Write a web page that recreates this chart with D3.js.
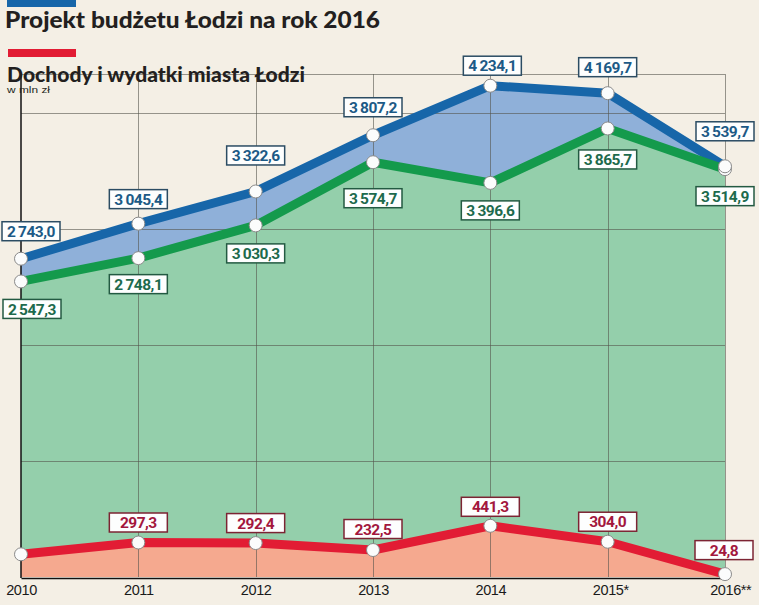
<!DOCTYPE html>
<html><head><meta charset="utf-8">
<script src="https://cdn.jsdelivr.net/npm/d3@7"></script>
<style>body{margin:0;background:#f4efe5;} svg{display:block}</style>
</head><body><svg id="c" width="759" height="605"></svg>
<script>
// ---- data ----
const years = [2010, 2011, 2012, 2013, 2014, 2015, 2016];
const yearLabels = ["2010", "2011", "2012", "2013", "2014", "2015*", "2016**"];
const expenses = [2743.0, 3045.4, 3322.6, 3807.2, 4234.1, 4169.7, 3539.7]; // wydatki (blue)
const income = [2547.3, 2748.1, 3030.3, 3574.7, 3396.6, 3865.7, 3514.9];   // dochody (green)
const deficit = [195.7, 297.3, 292.4, 232.5, 441.3, 304.0, 24.8];           // red
const deficitShown = [false, true, true, true, true, true, true];
const gridValues = [1000, 2000, 3000, 4000];
const titleText = "Projekt budżetu Łodzi na rok 2016";
const subtitleText = "Dochody i wydatki miasta Łodzi";
const unitText = "w mln zł";

// ---- layout (label offsets relative to point, px) ----
const blueOff = [[10,-27.5],[0,-24.5],[0,-36],[0,-28],[2,-20],[0,-26],[0,-35]];
const greenOff = [[11,27.5],[0,26],[0,28],[0,36],[0,27.5],[0,31],[0,27]];
const redOff = [[0,-20],[0,-20],[0,-20],[0,-21],[0,-19],[0,-20],[-1,-24]];

const svg = d3.select("#c");
const W = 759, H = 605;
svg.append("rect").attr("width", W).attr("height", H).attr("fill", "#f4efe5");

const x = d3.scaleLinear().domain([2010, 2016]).range([21, 725]);
const TOPVAL = 4335;
const y = d3.scaleLinear().domain([0, TOPVAL]).range([577, 74]);

const C = {
  blue: "#1766a9", green: "#149a4c", red: "#e21c34",
  blueFill: "#8fb0d9", greenFill: "#94cfab", redFill: "#f5a98f"
};

const idx = years.map((d, i) => i);

// areas
const g = svg.append("g");
g.append("path").datum(idx)
  .attr("d", d3.area().x(i => x(years[i])).y0(y(0)).y1(i => y(income[i])))
  .attr("fill", C.greenFill);
g.append("path").datum(idx)
  .attr("d", d3.area().x(i => x(years[i])).y0(i => y(income[i])).y1(i => y(expenses[i])))
  .attr("fill", C.blueFill);
g.append("path").datum(idx)
  .attr("d", d3.area().x(i => x(years[i])).y0(y(0)).y1(i => y(deficit[i])))
  .attr("fill", C.redFill);

// grid
const grid = svg.append("g").attr("stroke", "#55554c").attr("stroke-opacity", 0.6).attr("stroke-width", 1);
grid.selectAll("line.h").data(gridValues.concat([TOPVAL])).join("line")
  .attr("x1", x(2010)).attr("x2", x(2016))
  .attr("y1", d => Math.round(y(d)) + 0.5).attr("y2", d => Math.round(y(d)) + 0.5);
grid.selectAll("line.v").data(years.slice(1)).join("line")
  .attr("x1", d => Math.round(x(d)) + 0.5).attr("x2", d => Math.round(x(d)) + 0.5)
  .attr("y1", y(TOPVAL)).attr("y2", y(0));

// lines
const line = arr => d3.line().x(i => x(years[i])).y(i => y(arr[i]));
const lw = 9;
svg.append("path").datum(idx).attr("d", line(deficit)).attr("fill", "none")
  .attr("stroke", C.red).attr("stroke-width", lw).attr("stroke-linejoin", "round");
svg.append("path").datum(idx).attr("d", line(expenses)).attr("fill", "none")
  .attr("stroke", C.blue).attr("stroke-width", lw).attr("stroke-linejoin", "round");
svg.append("path").datum(idx).attr("d", line(income)).attr("fill", "none")
  .attr("stroke", C.green).attr("stroke-width", lw).attr("stroke-linejoin", "round");

// axes lines
svg.append("line").attr("x1", x(2010)).attr("x2", x(2010)).attr("y1", y(TOPVAL)).attr("y2", y(0) + 1)
  .attr("stroke", "#111").attr("stroke-width", 1.5);
const AXF = "'Liberation Sans', Arial, sans-serif";
const xAxis = d3.axisBottom(x).tickValues(years).tickFormat((d, i) => yearLabels[i]).tickSize(0).tickPadding(7);
const ax = svg.append("g").attr("transform", `translate(0,${y(0) + 1})`).call(xAxis);
ax.select(".domain").attr("stroke", "#111").attr("stroke-width", 1.5);
ax.selectAll("text").attr("font-family", AXF)
  .attr("font-size", 14.5).attr("fill", "#1a1a1a").attr("letter-spacing", -0.4);
ax.selectAll("text").each(function (d, i) {
  const full = this.getComputedTextLength();
  const base = yearLabels[i].replace(/\*/g, "");
  const tmp = ax.append("text").attr("font-family", AXF)
    .attr("font-size", 14.5).attr("letter-spacing", -0.4).text(base);
  const bw = tmp.node().getComputedTextLength();
  tmp.remove();
  d3.select(this).attr("dx", (full - bw) / 2);
});

// markers
function markers(arr) {
  svg.append("g").selectAll("circle").data(idx).join("circle")
    .attr("cx", i => x(years[i])).attr("cy", i => y(arr[i])).attr("r", 6.5)
    .attr("fill", "#fbfcfc").attr("stroke", "#8a8a8a").attr("stroke-width", 1);
}
markers(deficit);
markers(income);
markers(expenses);

// labels
const fmt = d3.formatLocale({decimal: ",", thousands: "\u2009", grouping: [3], currency: ["", ""]}).format(",.1f");
function labels(arr, off, textCol, borderCol, shown) {
  const lg = svg.append("g");
  idx.forEach(i => {
    if (shown && !shown[i]) return;
    const cx = x(years[i]) + off[i][0], cy = y(arr[i]) + off[i][1];
    const grp = lg.append("g");
    const rect = grp.append("rect");
    const t = grp.append("text").attr("x", cx).attr("y", cy).attr("dy", "0.36em")
      .attr("text-anchor", "middle")
      .attr("font-family", "Roboto, 'Liberation Sans', Arial, sans-serif")
      .attr("font-weight", 700).attr("font-size", 15.5).attr("letter-spacing", -0.5)
      .attr("fill", textCol).text(fmt(arr[i]));
    const tw = t.node().getComputedTextLength();
    const bw = Math.max(58, tw + 9), bh = 19;
    rect.attr("x", cx - bw / 2).attr("y", cy - bh / 2).attr("width", bw).attr("height", bh)
      .attr("fill", "#fdfefe").attr("stroke", borderCol).attr("stroke-width", 1.5);
  });
}
labels(expenses, blueOff, "#1c5a86", "#2b4c63");
labels(income, greenOff, "#1d6a4d", "#235a42");
labels(deficit, redOff, "#a3173d", "#7c2433", deficitShown);

// titles
svg.append("rect").attr("x", 7).attr("y", 0).attr("width", 69).attr("height", 7).attr("fill", C.blue);
svg.append("rect").attr("x", 8).attr("y", 49).attr("width", 68).attr("height", 8).attr("fill", C.red);
svg.append("text").attr("x", 5).attr("y", 28)
  .attr("font-family", "Lato, 'Open Sans', sans-serif").attr("font-weight", 900).attr("font-size", 22.5)
  .attr("fill", "#231f20").attr("textLength", 375).attr("lengthAdjust", "spacingAndGlyphs").text(titleText);
svg.append("text").attr("x", 7).attr("y", 82)
  .attr("font-family", "Lato, 'Open Sans', sans-serif").attr("font-weight", 900).attr("font-size", 20.5)
  .attr("fill", "#231f20").attr("textLength", 298).attr("lengthAdjust", "spacingAndGlyphs").text(subtitleText);
svg.append("text").attr("x", 7).attr("y", 93)
  .attr("font-family", "'Liberation Sans', Arial, sans-serif").attr("font-size", 8.5)
  .attr("fill", "#231f20").attr("textLength", 43).attr("lengthAdjust", "spacingAndGlyphs").text(unitText);
</script></body></html>
